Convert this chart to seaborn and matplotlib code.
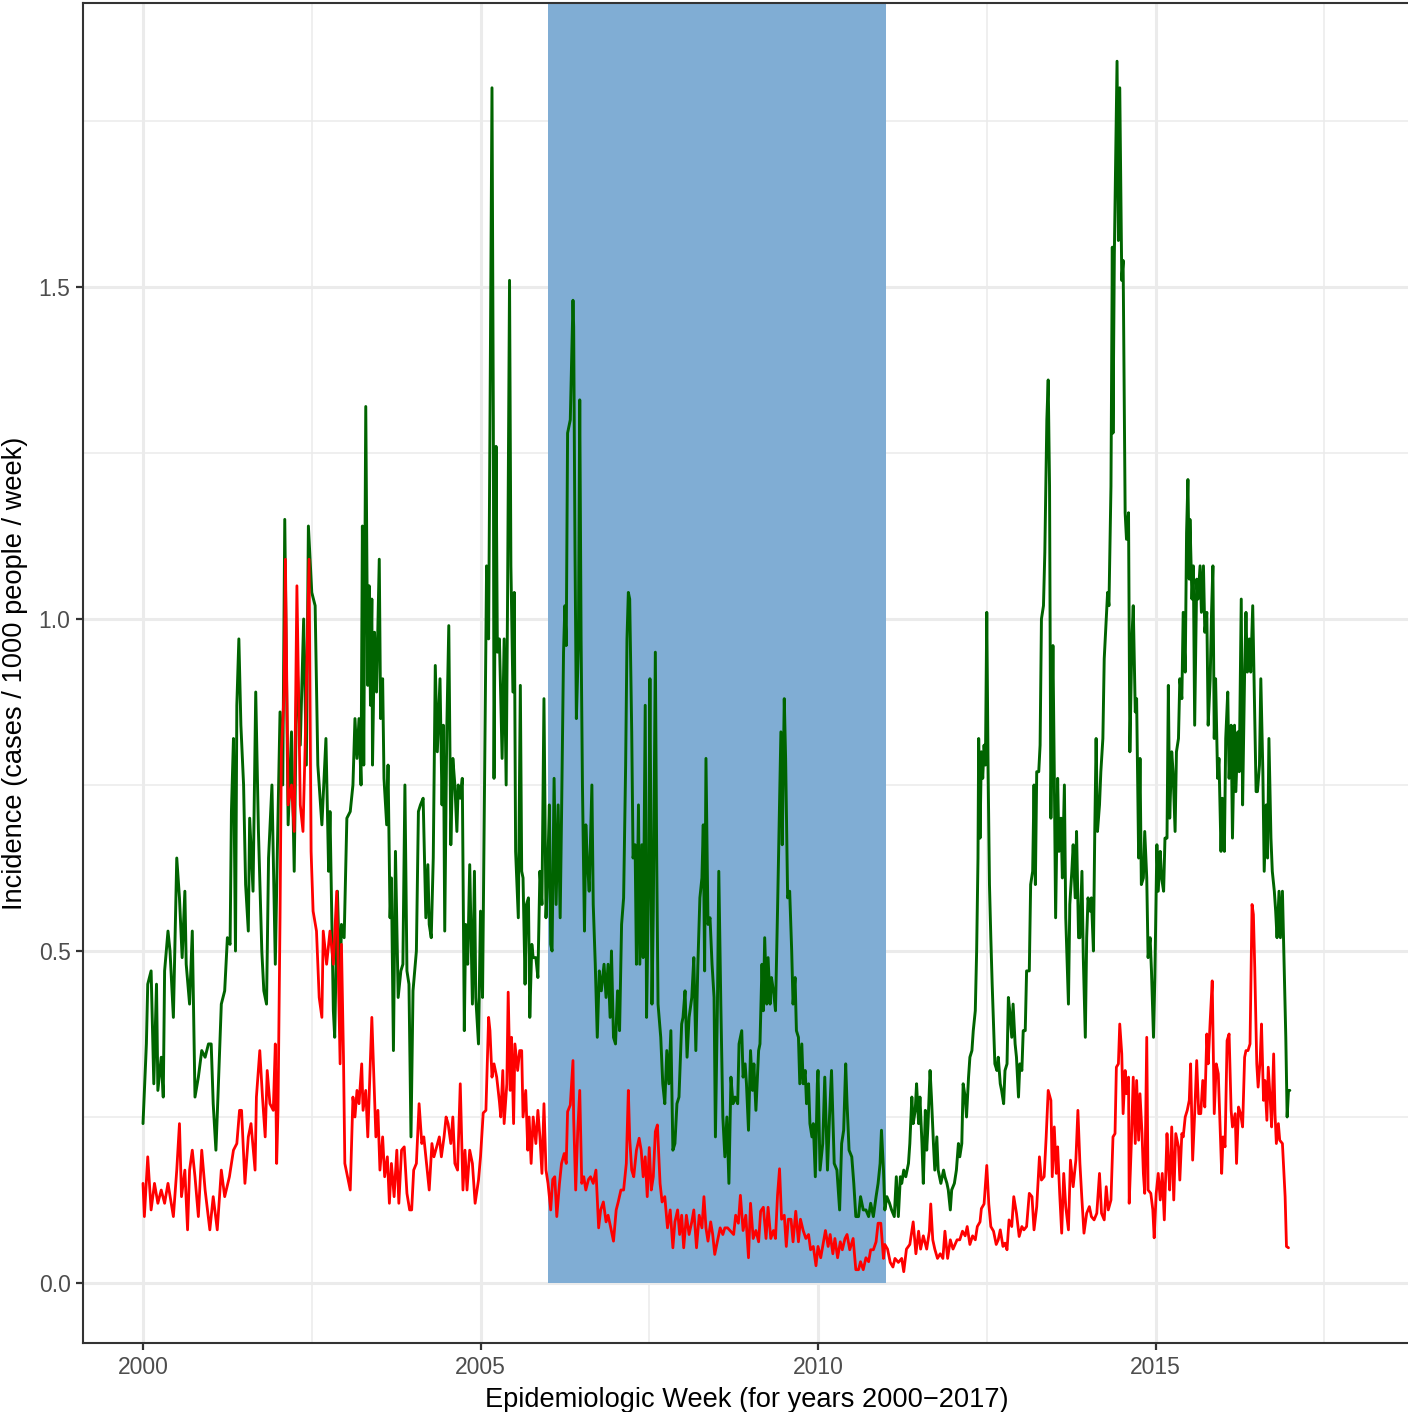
import matplotlib
matplotlib.use("Agg")
import matplotlib.pyplot as plt
import matplotlib.patches as mpatches
from matplotlib.ticker import MultipleLocator
import seaborn as sns
import pandas as pd

# ---------------- data ----------------
green_years = [
    2000.00, 2000.05, 2000.07, 2000.12, 2000.16, 2000.20, 2000.22, 2000.27, 2000.30, 2000.32,
    2000.37, 2000.40, 2000.45, 2000.50, 2000.54, 2000.58, 2000.62, 2000.64, 2000.69, 2000.73,
    2000.77, 2000.82, 2000.87, 2000.92, 2000.97,
    2001.01, 2001.04, 2001.08, 2001.11, 2001.16, 2001.21, 2001.25, 2001.29, 2001.31, 2001.34,
    2001.37, 2001.39, 2001.42, 2001.45, 2001.49, 2001.52, 2001.56, 2001.58, 2001.63, 2001.67,
    2001.71, 2001.76, 2001.79, 2001.83, 2001.86, 2001.91, 2001.96, 2001.99,
    2002.03, 2002.07, 2002.10, 2002.15, 2002.20, 2002.24, 2002.28, 2002.33, 2002.38, 2002.42,
    2002.45, 2002.50, 2002.55, 2002.59, 2002.65, 2002.71, 2002.75, 2002.77, 2002.82, 2002.84,
    2002.88, 2002.92, 2002.94, 2002.98,
    2003.02, 2003.07, 2003.11, 2003.14, 2003.17, 2003.20, 2003.23, 2003.25, 2003.27, 2003.30,
    2003.33, 2003.35, 2003.37, 2003.39, 2003.40, 2003.43, 2003.46, 2003.50, 2003.52, 2003.55,
    2003.57, 2003.61, 2003.63, 2003.66, 2003.68, 2003.71, 2003.74, 2003.78, 2003.82, 2003.85,
    2003.88, 2003.91, 2003.94, 2003.97,
    2004.00, 2004.05, 2004.08, 2004.11, 2004.15, 2004.19, 2004.22, 2004.24, 2004.27, 2004.30,
    2004.33, 2004.36, 2004.40, 2004.43, 2004.45, 2004.47, 2004.50, 2004.53, 2004.56, 2004.59,
    2004.62, 2004.65, 2004.67, 2004.70, 2004.73, 2004.76, 2004.78, 2004.81, 2004.84, 2004.88,
    2004.91, 2004.93, 2004.97,
    2005.00, 2005.03, 2005.07, 2005.09, 2005.12, 2005.14, 2005.17, 2005.19, 2005.20, 2005.23,
    2005.25, 2005.28, 2005.30, 2005.32, 2005.35, 2005.38, 2005.40, 2005.43, 2005.45, 2005.48,
    2005.50, 2005.52, 2005.56, 2005.59, 2005.61, 2005.63, 2005.66, 2005.68, 2005.71, 2005.73,
    2005.76, 2005.78, 2005.82, 2005.85, 2005.88, 2005.91, 2005.94, 2005.97, 2005.99,
    2006.02, 2006.04, 2006.06, 2006.09, 2006.12, 2006.15, 2006.18, 2006.20, 2006.23, 2006.25,
    2006.27, 2006.29, 2006.33, 2006.35, 2006.37, 2006.38, 2006.40, 2006.42, 2006.45, 2006.47,
    2006.49, 2006.51, 2006.54, 2006.56, 2006.58, 2006.61, 2006.65, 2006.67, 2006.70, 2006.73,
    2006.76, 2006.79, 2006.83, 2006.86, 2006.89, 2006.92, 2006.94, 2006.97,
    2007.00, 2007.03, 2007.06, 2007.09, 2007.12, 2007.15, 2007.17, 2007.19, 2007.21, 2007.24,
    2007.26, 2007.29, 2007.31, 2007.34, 2007.36, 2007.39, 2007.41, 2007.44, 2007.46, 2007.49,
    2007.51, 2007.54, 2007.56, 2007.59, 2007.61, 2007.63, 2007.67, 2007.70, 2007.73, 2007.76,
    2007.79, 2007.82, 2007.85, 2007.88, 2007.91, 2007.94, 2007.98,
    2008.00, 2008.03, 2008.06, 2008.09, 2008.13, 2008.16, 2008.19, 2008.22, 2008.25, 2008.28,
    2008.30, 2008.32, 2008.34, 2008.37, 2008.40, 2008.43, 2008.46, 2008.48, 2008.51, 2008.53,
    2008.56, 2008.59, 2008.62, 2008.65, 2008.68, 2008.71, 2008.74, 2008.77, 2008.81, 2008.83,
    2008.87, 2008.89, 2008.92, 2008.94, 2008.97,
    2009.00, 2009.03, 2009.05, 2009.08, 2009.12, 2009.14, 2009.17, 2009.19, 2009.21, 2009.24,
    2009.26, 2009.29, 2009.31, 2009.34, 2009.37, 2009.40, 2009.43, 2009.45, 2009.47, 2009.50,
    2009.52, 2009.55, 2009.58, 2009.61, 2009.63, 2009.66, 2009.68, 2009.71, 2009.73, 2009.76,
    2009.78, 2009.81, 2009.83, 2009.86, 2009.88, 2009.91, 2009.93, 2009.96, 2009.99,
    2010.00, 2010.03, 2010.07, 2010.10, 2010.14, 2010.17, 2010.20, 2010.24, 2010.28, 2010.32,
    2010.35, 2010.38, 2010.41, 2010.43, 2010.46, 2010.50, 2010.53, 2010.56, 2010.60, 2010.63,
    2010.67, 2010.71, 2010.75, 2010.78, 2010.82, 2010.86, 2010.89, 2010.92, 2010.94, 2010.97,
    2010.99,
    2011.02, 2011.06, 2011.09, 2011.13, 2011.16, 2011.19, 2011.22, 2011.24, 2011.27, 2011.30,
    2011.34, 2011.36, 2011.39, 2011.41, 2011.44, 2011.46, 2011.49, 2011.51, 2011.54, 2011.56,
    2011.59, 2011.61, 2011.63, 2011.66, 2011.68, 2011.71, 2011.73, 2011.76, 2011.78, 2011.82,
    2011.86, 2011.88, 2011.91, 2011.93, 2011.96, 2011.98,
    2012.02, 2012.05, 2012.08, 2012.10, 2012.13, 2012.15, 2012.18, 2012.20, 2012.23, 2012.25,
    2012.28, 2012.30, 2012.33, 2012.35, 2012.37, 2012.38, 2012.40, 2012.42, 2012.44, 2012.46,
    2012.48, 2012.50, 2012.52, 2012.54, 2012.56, 2012.58, 2012.60, 2012.62, 2012.65, 2012.67,
    2012.70, 2012.72, 2012.75, 2012.77, 2012.80, 2012.82, 2012.84, 2012.87, 2012.89, 2012.92,
    2012.94, 2012.97, 2012.99,
    2013.02, 2013.04, 2013.07, 2013.09, 2013.13, 2013.15, 2013.18, 2013.20, 2013.22, 2013.24,
    2013.27, 2013.29, 2013.31, 2013.34, 2013.36, 2013.39, 2013.41, 2013.43, 2013.45, 2013.48,
    2013.50, 2013.52, 2013.55, 2013.57, 2013.60, 2013.62, 2013.65, 2013.67, 2013.71, 2013.73,
    2013.76, 2013.78, 2013.81, 2013.83, 2013.86, 2013.88, 2013.91, 2013.93, 2013.96, 2013.98,
    2014.00, 2014.03, 2014.05, 2014.08, 2014.10, 2014.12, 2014.14, 2014.17, 2014.19, 2014.22,
    2014.24, 2014.26, 2014.29, 2014.31, 2014.34, 2014.36, 2014.37, 2014.39, 2014.41, 2014.43,
    2014.45, 2014.47, 2014.50, 2014.52, 2014.55, 2014.57, 2014.60, 2014.62, 2014.65, 2014.67,
    2014.70, 2014.72, 2014.75, 2014.77, 2014.79, 2014.82, 2014.84, 2014.87, 2014.89, 2014.92,
    2014.94, 2014.97, 2014.99,
    2015.02, 2015.04, 2015.07, 2015.09, 2015.12, 2015.14, 2015.17, 2015.19, 2015.21, 2015.24,
    2015.26, 2015.29, 2015.31, 2015.34, 2015.36, 2015.39, 2015.41, 2015.44, 2015.46, 2015.48,
    2015.50, 2015.51, 2015.54, 2015.56, 2015.58, 2015.61, 2015.63, 2015.66, 2015.68, 2015.71,
    2015.73, 2015.76, 2015.78, 2015.81, 2015.83, 2015.85, 2015.87, 2015.89, 2015.92, 2015.94,
    2015.97, 2015.99,
    2016.02, 2016.04, 2016.07, 2016.09, 2016.12, 2016.14, 2016.17, 2016.19, 2016.22, 2016.24,
    2016.27, 2016.29, 2016.32, 2016.34, 2016.36, 2016.39, 2016.41, 2016.44, 2016.46, 2016.49,
    2016.51, 2016.54, 2016.56, 2016.59, 2016.61, 2016.64, 2016.66, 2016.68, 2016.71, 2016.73,
    2016.76, 2016.78, 2016.80, 2016.83, 2016.85, 2016.88, 2016.90, 2016.93, 2016.95, 2016.97,
    2016.99,
]
green_vals = [
    0.24, 0.36, 0.45, 0.47, 0.30, 0.45, 0.29, 0.34, 0.28, 0.47,
    0.53, 0.50, 0.40, 0.64, 0.58, 0.49, 0.59, 0.48, 0.42, 0.53,
    0.28, 0.31, 0.35, 0.34, 0.36,
    0.36, 0.27, 0.20, 0.28, 0.42, 0.44, 0.52, 0.51, 0.71, 0.82,
    0.50, 0.87, 0.97, 0.84, 0.75, 0.60, 0.53, 0.70, 0.59, 0.89,
    0.68, 0.50, 0.44, 0.42, 0.64, 0.75, 0.48, 0.65,
    0.86, 0.75, 1.15, 0.69, 0.83, 0.62, 0.94, 0.81, 1.00, 0.78,
    1.14, 1.04, 1.02, 0.78, 0.69, 0.82, 0.62, 0.71, 0.41, 0.37,
    0.59, 0.44, 0.54, 0.52,
    0.70, 0.71, 0.75, 0.85, 0.79, 0.85, 0.75, 1.14, 0.78, 1.32,
    0.90, 1.05, 0.87, 1.03, 0.78, 0.98, 0.89, 1.09, 0.85, 0.91,
    0.76, 0.69, 0.78, 0.55, 0.61, 0.35, 0.65, 0.43, 0.47, 0.48,
    0.75, 0.47, 0.45, 0.22,
    0.44, 0.50, 0.71, 0.72, 0.73, 0.55, 0.63, 0.54, 0.52, 0.64,
    0.93, 0.80, 0.91, 0.72, 0.84, 0.53, 0.83, 0.99, 0.66, 0.79,
    0.75, 0.68, 0.75, 0.73, 0.76, 0.38, 0.54, 0.48, 0.63, 0.42,
    0.62, 0.43, 0.36,
    0.56, 0.43, 0.86, 1.08, 0.97, 1.29, 1.80, 1.30, 0.76, 1.26,
    0.95, 0.97, 0.88, 0.79, 0.97, 0.75, 1.02, 1.51, 1.08, 0.89,
    1.04, 0.65, 0.55, 0.90, 0.62, 0.61, 0.45, 0.57, 0.58, 0.40,
    0.51, 0.49, 0.49, 0.46, 0.62, 0.57, 0.88, 0.55, 0.60,
    0.72, 0.51, 0.50, 0.76, 0.57, 0.72, 0.55, 0.70, 0.95, 1.02,
    0.96, 1.28, 1.30, 1.39, 1.48, 1.44, 1.10, 0.85, 0.96, 1.33,
    0.97, 0.75, 0.53, 0.69, 0.64, 0.59, 0.75, 0.57, 0.48, 0.37,
    0.47, 0.44, 0.48, 0.43, 0.48, 0.40, 0.50, 0.37,
    0.36, 0.44, 0.38, 0.54, 0.58, 0.78, 0.97, 1.04, 1.03, 0.83,
    0.64, 0.66, 0.48, 0.72, 0.48, 0.66, 0.49, 0.87, 0.40, 0.60,
    0.91, 0.42, 0.56, 0.95, 0.64, 0.42, 0.37, 0.30, 0.27, 0.35,
    0.30, 0.38, 0.20, 0.21, 0.27, 0.28, 0.39,
    0.40, 0.44, 0.34, 0.40, 0.43, 0.49, 0.35, 0.48, 0.58, 0.61,
    0.69, 0.47, 0.79, 0.54, 0.55, 0.48, 0.43, 0.22, 0.42, 0.62,
    0.42, 0.25, 0.19, 0.25, 0.15, 0.31, 0.27, 0.28, 0.27, 0.36,
    0.38, 0.31, 0.33, 0.30, 0.23,
    0.35, 0.29, 0.33, 0.26, 0.35, 0.36, 0.48, 0.41, 0.52, 0.42,
    0.49, 0.42, 0.46, 0.44, 0.41, 0.56, 0.72, 0.83, 0.66, 0.88,
    0.79, 0.58, 0.59, 0.50, 0.42, 0.46, 0.38, 0.37, 0.30, 0.36,
    0.30, 0.32, 0.27, 0.30, 0.24, 0.22, 0.24, 0.16, 0.30,
    0.32, 0.17, 0.21, 0.31, 0.17, 0.25, 0.32, 0.18, 0.17, 0.11,
    0.21, 0.23, 0.33, 0.27, 0.20, 0.19, 0.15, 0.10, 0.10, 0.13,
    0.11, 0.11, 0.10, 0.12, 0.10, 0.13, 0.15, 0.18, 0.23, 0.17,
    0.11,
    0.13, 0.12, 0.11, 0.10, 0.16, 0.10, 0.16, 0.15, 0.17, 0.16,
    0.18, 0.21, 0.28, 0.24, 0.26, 0.30, 0.24, 0.28, 0.21, 0.15,
    0.26, 0.20, 0.24, 0.32, 0.28, 0.21, 0.17, 0.22, 0.17, 0.15,
    0.17, 0.16, 0.15, 0.14, 0.11, 0.14,
    0.15, 0.17, 0.21, 0.19, 0.21, 0.30, 0.28, 0.25, 0.31, 0.34,
    0.35, 0.38, 0.41, 0.50, 0.64, 0.82, 0.67, 0.80, 0.76, 0.81,
    0.78, 1.01, 0.77, 0.60, 0.52, 0.45, 0.39, 0.33, 0.32, 0.34,
    0.30, 0.29, 0.27, 0.32, 0.33, 0.43, 0.41, 0.37, 0.42, 0.36,
    0.34, 0.28, 0.33,
    0.32, 0.38, 0.38, 0.47, 0.47, 0.60, 0.62, 0.75, 0.60, 0.77,
    0.77, 0.81, 1.00, 1.02, 1.10, 1.30, 1.36, 1.20, 0.70, 0.96,
    0.77, 0.55, 0.76, 0.65, 0.70, 0.61, 0.75, 0.55, 0.42, 0.57,
    0.62, 0.66, 0.58, 0.68, 0.52, 0.52, 0.62, 0.49, 0.37, 0.52,
    0.58, 0.56, 0.58, 0.50, 0.68, 0.82, 0.68, 0.72, 0.77, 0.82,
    0.94, 0.98, 1.04, 1.02, 1.20, 1.56, 1.28, 1.55, 1.69, 1.84,
    1.57, 1.80, 1.51, 1.54, 1.16, 1.12, 1.16, 0.80, 0.97, 1.02,
    0.86, 0.88, 0.64, 0.79, 0.60, 0.61, 0.68, 0.61, 0.49, 0.52,
    0.47, 0.37, 0.46,
    0.66, 0.59, 0.65, 0.61, 0.59, 0.67, 0.67, 0.90, 0.70, 0.80,
    0.77, 0.68, 0.80, 0.82, 0.91, 0.88, 1.01, 0.92, 1.13, 1.21,
    1.06, 1.15, 1.03, 1.08, 0.84, 1.06, 1.03, 1.08, 1.01, 1.08,
    0.98, 1.01, 0.84, 0.91, 1.01, 1.08, 0.82, 0.91, 0.76, 0.79,
    0.65, 0.73,
    0.65, 0.82, 0.89, 0.76, 0.84, 0.67, 0.84, 0.74, 0.83, 0.77,
    1.03, 0.72, 0.92, 1.01, 0.92, 0.97, 0.92, 1.02, 0.91, 0.74,
    0.74, 0.78, 0.91, 0.77, 0.62, 0.72, 0.64, 0.82, 0.67, 0.62,
    0.59, 0.56, 0.52, 0.59, 0.52, 0.59, 0.50, 0.37, 0.25, 0.29,
    0.29,
]

red_years = [
    2000.00, 2000.02, 2000.07, 2000.12, 2000.17, 2000.22, 2000.27, 2000.32, 2000.37, 2000.45,
    2000.50, 2000.54, 2000.57, 2000.62, 2000.66, 2000.69, 2000.73, 2000.77, 2000.82, 2000.87,
    2000.92, 2000.99,
    2001.04, 2001.10, 2001.16, 2001.21, 2001.28, 2001.34, 2001.39, 2001.43, 2001.46, 2001.51,
    2001.56, 2001.60, 2001.66, 2001.68, 2001.73, 2001.77, 2001.81, 2001.84, 2001.88, 2001.93,
    2001.96, 2001.98,
    2002.00, 2002.03, 2002.05, 2002.09, 2002.11, 2002.15, 2002.20, 2002.24, 2002.28, 2002.33,
    2002.37, 2002.40, 2002.46, 2002.49, 2002.52, 2002.57, 2002.61, 2002.65, 2002.67, 2002.72,
    2002.77, 2002.82, 2002.87, 2002.92, 2002.94, 2002.97, 2002.99,
    2003.03, 2003.07, 2003.11, 2003.14, 2003.17, 2003.20, 2003.24, 2003.26, 2003.30, 2003.33,
    2003.36, 2003.39, 2003.42, 2003.45, 2003.48, 2003.51, 2003.55, 2003.58, 2003.62, 2003.65,
    2003.68, 2003.72, 2003.76, 2003.79, 2003.83, 2003.87, 2003.91, 2003.95, 2003.98,
    2004.01, 2004.05, 2004.09, 2004.13, 2004.16, 2004.20, 2004.24, 2004.28, 2004.31, 2004.35,
    2004.39, 2004.42, 2004.46, 2004.49, 2004.52, 2004.56, 2004.59, 2004.62, 2004.66, 2004.70,
    2004.74, 2004.77, 2004.80, 2004.84, 2004.88, 2004.92, 2004.97,
    2005.00, 2005.04, 2005.08, 2005.12, 2005.14, 2005.17, 2005.20, 2005.24, 2005.28, 2005.30,
    2005.33, 2005.35, 2005.39, 2005.41, 2005.44, 2005.46, 2005.49, 2005.51, 2005.55, 2005.58,
    2005.61, 2005.63, 2005.67, 2005.70, 2005.72, 2005.75, 2005.78, 2005.82, 2005.85, 2005.88,
    2005.91, 2005.94, 2005.97,
    2006.00, 2006.04, 2006.07, 2006.10, 2006.13, 2006.17, 2006.20, 2006.24, 2006.27, 2006.29,
    2006.33, 2006.37, 2006.38, 2006.41, 2006.44, 2006.47, 2006.50, 2006.53, 2006.56, 2006.60,
    2006.63, 2006.67, 2006.71, 2006.75, 2006.78, 2006.82, 2006.86, 2006.89, 2006.93, 2006.97,
    2007.01, 2007.04, 2007.08, 2007.12, 2007.16, 2007.19, 2007.21, 2007.24, 2007.27, 2007.31,
    2007.35, 2007.38, 2007.41, 2007.44, 2007.47, 2007.50, 2007.53, 2007.56, 2007.59, 2007.62,
    2007.66, 2007.69, 2007.73, 2007.77, 2007.81, 2007.85, 2007.88, 2007.92, 2007.95, 2007.98,
    2008.01, 2008.05, 2008.09, 2008.13, 2008.16, 2008.20, 2008.24, 2008.28, 2008.31, 2008.34,
    2008.37, 2008.41, 2008.44, 2008.47, 2008.51, 2008.55, 2008.59, 2008.62, 2008.66, 2008.75,
    2008.78, 2008.82, 2008.85, 2008.89, 2008.93, 2008.97,
    2009.00, 2009.04, 2009.08, 2009.12, 2009.15, 2009.19, 2009.23, 2009.26, 2009.30, 2009.34,
    2009.37, 2009.40, 2009.43, 2009.46, 2009.50, 2009.53, 2009.56, 2009.60, 2009.63, 2009.67,
    2009.71, 2009.74, 2009.78, 2009.82, 2009.86, 2009.89, 2009.93, 2009.97,
    2010.00, 2010.04, 2010.08, 2010.11, 2010.15, 2010.18, 2010.22, 2010.25, 2010.29, 2010.33,
    2010.36, 2010.40, 2010.43, 2010.47, 2010.52, 2010.56, 2010.60, 2010.63, 2010.67, 2010.71,
    2010.75, 2010.78, 2010.82, 2010.86, 2010.89, 2010.93, 2010.97, 2010.99,
    2011.03, 2011.07, 2011.11, 2011.14, 2011.19, 2011.24, 2011.27, 2011.31, 2011.36, 2011.41,
    2011.45, 2011.49, 2011.52, 2011.56, 2011.61, 2011.65, 2011.67, 2011.70, 2011.73, 2011.77,
    2011.81, 2011.85, 2011.88, 2011.92, 2011.96,
    2012.00, 2012.03, 2012.06, 2012.10, 2012.14, 2012.18, 2012.21, 2012.25, 2012.29, 2012.33,
    2012.36, 2012.40, 2012.42, 2012.46, 2012.50, 2012.53, 2012.56, 2012.60, 2012.64, 2012.67,
    2012.70, 2012.74, 2012.77, 2012.80, 2012.83, 2012.87, 2012.90, 2012.94, 2012.98,
    2013.02, 2013.05, 2013.09, 2013.13, 2013.17, 2013.20, 2013.24, 2013.28, 2013.31, 2013.35,
    2013.38, 2013.41, 2013.45, 2013.47, 2013.50, 2013.53, 2013.55, 2013.58, 2013.61, 2013.64,
    2013.67, 2013.71, 2013.74, 2013.78, 2013.82, 2013.85, 2013.88, 2013.91, 2013.94, 2013.98,
    2014.02, 2014.05, 2014.09, 2014.13, 2014.17, 2014.20, 2014.24, 2014.27, 2014.30, 2014.34,
    2014.37, 2014.40, 2014.42, 2014.45, 2014.47, 2014.50, 2014.52, 2014.55, 2014.57, 2014.60,
    2014.61, 2014.64, 2014.67, 2014.70, 2014.72, 2014.75, 2014.77, 2014.80, 2014.82, 2014.84,
    2014.87, 2014.89, 2014.93, 2014.96, 2014.98,
    2015.01, 2015.04, 2015.07, 2015.10, 2015.13, 2015.17, 2015.19, 2015.21, 2015.24, 2015.27,
    2015.30, 2015.34, 2015.36, 2015.39, 2015.41, 2015.44, 2015.47, 2015.50, 2015.52, 2015.55,
    2015.58, 2015.61, 2015.64, 2015.67, 2015.70, 2015.73, 2015.76, 2015.78, 2015.81, 2015.84,
    2015.87, 2015.90, 2015.93, 2015.96, 2015.98,
    2016.00, 2016.03, 2016.06, 2016.09, 2016.12, 2016.14, 2016.18, 2016.20, 2016.23, 2016.26,
    2016.29, 2016.32, 2016.34, 2016.37, 2016.40, 2016.43, 2016.45, 2016.47, 2016.50, 2016.52,
    2016.55, 2016.57, 2016.60, 2016.62, 2016.65, 2016.67, 2016.70, 2016.72, 2016.75, 2016.77,
    2016.79, 2016.82, 2016.84, 2016.88, 2016.92, 2016.94, 2016.97,
]
red_vals = [
    0.15, 0.10, 0.19, 0.11, 0.15, 0.12, 0.14, 0.12, 0.15, 0.10,
    0.17, 0.24, 0.13, 0.17, 0.08, 0.17, 0.20, 0.16, 0.10, 0.20,
    0.14, 0.08,
    0.13, 0.08, 0.17, 0.13, 0.16, 0.20, 0.21, 0.26, 0.26, 0.15,
    0.22, 0.24, 0.17, 0.28, 0.35, 0.28, 0.22, 0.32, 0.27, 0.26,
    0.36, 0.18,
    0.26, 0.55, 0.80, 0.89, 1.09, 0.72, 0.75, 0.68, 1.05, 0.72,
    0.68, 0.80, 1.09, 0.65, 0.56, 0.53, 0.43, 0.40, 0.53, 0.48,
    0.53, 0.48, 0.59, 0.33, 0.51, 0.34, 0.18,
    0.16, 0.14, 0.28, 0.25, 0.29, 0.27, 0.33, 0.26, 0.29, 0.22,
    0.31, 0.40, 0.31, 0.22, 0.26, 0.17, 0.22, 0.16, 0.19, 0.12,
    0.18, 0.13, 0.20, 0.12, 0.20, 0.205, 0.135, 0.11, 0.11,
    0.17, 0.18, 0.27, 0.21, 0.22, 0.18, 0.14, 0.21, 0.19, 0.205,
    0.22, 0.19, 0.22, 0.25, 0.24, 0.21, 0.25, 0.18, 0.17, 0.30,
    0.14, 0.20, 0.14, 0.20, 0.18, 0.12, 0.155,
    0.19, 0.256, 0.26, 0.40, 0.38, 0.31, 0.33, 0.31, 0.273, 0.25,
    0.32, 0.24, 0.30, 0.438, 0.29, 0.37, 0.24, 0.36, 0.32, 0.35,
    0.35, 0.25, 0.29, 0.20, 0.25, 0.18, 0.25, 0.21, 0.26, 0.22,
    0.165, 0.27, 0.17,
    0.15, 0.11, 0.156, 0.16, 0.10, 0.15, 0.18, 0.195, 0.18, 0.258,
    0.268, 0.335, 0.248, 0.14, 0.228, 0.29, 0.15, 0.16, 0.14, 0.156,
    0.16, 0.15, 0.17, 0.083, 0.11, 0.122, 0.092, 0.102, 0.083, 0.063,
    0.11, 0.122, 0.14, 0.14, 0.18, 0.29, 0.218, 0.17, 0.16, 0.20,
    0.218, 0.20, 0.16, 0.19, 0.13, 0.204, 0.14, 0.16, 0.228, 0.238,
    0.15, 0.122, 0.13, 0.083, 0.11, 0.053, 0.092, 0.11, 0.073, 0.102,
    0.053, 0.102, 0.073, 0.092, 0.11, 0.053, 0.102, 0.083, 0.13, 0.083,
    0.063, 0.092, 0.073, 0.043, 0.063, 0.083, 0.073, 0.083, 0.083, 0.073,
    0.102, 0.09, 0.132, 0.079, 0.102, 0.038,
    0.12, 0.067, 0.079, 0.062, 0.108, 0.114, 0.067, 0.114, 0.067, 0.079,
    0.067, 0.132, 0.172, 0.096, 0.102, 0.055, 0.096, 0.096, 0.062, 0.108,
    0.062, 0.096, 0.079, 0.067, 0.073, 0.05, 0.055, 0.026,
    0.055, 0.038, 0.062, 0.079, 0.055, 0.073, 0.044, 0.067, 0.038, 0.062,
    0.05, 0.067, 0.073, 0.05, 0.067, 0.020, 0.020, 0.032, 0.020, 0.038,
    0.032, 0.05, 0.05, 0.062, 0.09, 0.09, 0.037, 0.058,
    0.051, 0.031, 0.024, 0.037, 0.031, 0.037, 0.017, 0.051, 0.058, 0.092,
    0.044, 0.078, 0.051, 0.071, 0.051, 0.078, 0.119, 0.065, 0.051, 0.037,
    0.044, 0.037, 0.078, 0.037, 0.065,
    0.051, 0.058, 0.065, 0.065, 0.078, 0.071, 0.085, 0.058, 0.071, 0.065,
    0.085, 0.092, 0.112, 0.119, 0.177, 0.119, 0.085, 0.078, 0.058, 0.065,
    0.08, 0.055, 0.06, 0.05, 0.095, 0.085, 0.13, 0.105, 0.07,
    0.085, 0.08, 0.085, 0.135, 0.13, 0.08, 0.115, 0.19, 0.155, 0.16,
    0.22, 0.29, 0.275, 0.16, 0.235, 0.165, 0.205, 0.135, 0.075, 0.165,
    0.115, 0.08, 0.185, 0.145, 0.185, 0.26, 0.18, 0.125, 0.075, 0.105,
    0.115, 0.10, 0.095, 0.105, 0.165, 0.105, 0.095, 0.145, 0.11, 0.125,
    0.22, 0.225, 0.325, 0.33, 0.39, 0.345, 0.255, 0.32, 0.285, 0.31,
    0.12, 0.205, 0.31, 0.21, 0.305, 0.215, 0.285, 0.225, 0.165, 0.135,
    0.37, 0.14, 0.135, 0.11, 0.068,
    0.135, 0.165, 0.125, 0.165, 0.095, 0.225, 0.18, 0.14, 0.235, 0.125,
    0.225, 0.205, 0.155, 0.225, 0.22, 0.25, 0.26, 0.275, 0.33, 0.185,
    0.255, 0.335, 0.255, 0.255, 0.305, 0.265, 0.375, 0.33, 0.395, 0.455,
    0.255, 0.33, 0.315, 0.225, 0.165,
    0.22, 0.205, 0.365, 0.375, 0.26, 0.235, 0.255, 0.18, 0.265, 0.255,
    0.235, 0.34, 0.35, 0.35, 0.36, 0.57, 0.555, 0.475, 0.33, 0.295,
    0.335, 0.39, 0.275, 0.305, 0.245, 0.325, 0.275, 0.235, 0.345, 0.255,
    0.21, 0.24, 0.215, 0.21, 0.13, 0.055, 0.053,
]

shade_start = 2006
shade_end = 2011
x_ticks = [2000, 2005, 2010, 2015]
y_ticks = [0.0, 0.5, 1.0, 1.5]
x_label = "Epidemiologic Week (for years 2000\u22122017)"
y_label = "Incidence (cases / 1000 people / week)"

green_df = pd.DataFrame({"year": green_years, "incidence": green_vals})
red_df = pd.DataFrame({"year": red_years, "incidence": red_vals})

# ---------------- style ----------------
sns.set_theme(style="white")
plt.rcParams["font.family"] = ["Liberation Sans", "DejaVu Sans"]

W, H = 1408, 1412
fig = plt.figure(figsize=(W / 100, H / 100), dpi=100)
left_px, right_px, top_px, bottom_px = 83, 1410, 3, 1343
ax = fig.add_axes([left_px / W, 1 - bottom_px / H,
                   (right_px - left_px) / W, (bottom_px - top_px) / H])

ax.set_facecolor("white")
grid_col = "#EBEBEB"
ax.xaxis.set_minor_locator(MultipleLocator(2.5))
ax.yaxis.set_minor_locator(MultipleLocator(0.25))
ax.grid(which="major", color=grid_col, linewidth=2.2, zorder=0)
ax.grid(which="minor", color=grid_col, linewidth=1.1, zorder=0)
ax.set_axisbelow(True)

# shaded period
ax.add_patch(mpatches.Rectangle((shade_start, 0), shade_end - shade_start, 5,
                                facecolor="#80ADD4", edgecolor="none", zorder=1))

sns.lineplot(data=green_df, x="year", y="incidence", color="#006400",
             linewidth=2.1, estimator=None, ax=ax, zorder=3)
sns.lineplot(data=red_df, x="year", y="incidence", color="#FF0000",
             linewidth=2.0, estimator=None, ax=ax, zorder=4)

ax.set_xlim(1999.111, 2018.77)
ax.set_ylim(-0.0904, 1.9277)
ax.set_xticks(x_ticks)
ax.set_xticklabels([str(t) for t in x_ticks])
ax.set_yticks(y_ticks)
ax.set_yticklabels([f"{t:.1f}" for t in y_ticks])

ax.tick_params(axis="both", which="major", length=5, width=1.6, color="#333333",
               labelsize=16.5, labelcolor="#4D4D4D", pad=4, direction="out",
               bottom=True, left=True)
ax.tick_params(axis="both", which="minor", length=0)

for name, sp in ax.spines.items():
    sp.set_color("#333333")
    sp.set_linewidth(1.5)
    sp.set_zorder(6)
ax.spines["right"].set_visible(False)

ax.set_xlabel(x_label, fontsize=19.6, color="black", labelpad=6)
ax.set_ylabel(y_label, fontsize=19.6, color="black", labelpad=8)

fig.savefig("out.png", dpi=100)
